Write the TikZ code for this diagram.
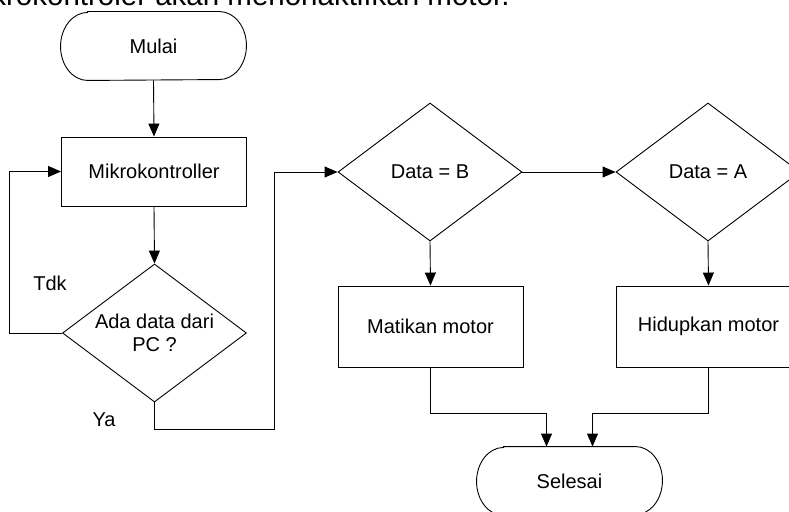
\documentclass[tikz,border=0pt]{standalone}
\usepackage{fontspec}
\setmainfont{Liberation Sans}
\usetikzlibrary{shapes.geometric,arrows.meta}

\tikzset{
  arr/.style={-{Triangle[length=13pt,width=11pt]}},
  lbl/.style={font=\fontsize{20}{23}\selectfont, inner sep=0pt},
  procbox/.style={draw, rectangle, minimum width=185pt, inner sep=0pt, lbl},
  decision/.style={draw, diamond, aspect=1.34, minimum width=184pt, minimum height=138pt, inner sep=0pt, lbl, align=center},
  terminal/.style={rectangle, minimum width=185pt, minimum height=68pt, inner sep=0pt, lbl},
}

\begin{document}
\begin{tikzpicture}[x=1pt,y=-1pt, line width=0.9pt]
  \useasboundingbox (0,0) rectangle (789,511);
  \clip (0,0) rectangle (789,511);

  % caption line running across the top
  \node[anchor=base east, inner sep=0pt, font=\fontsize{29.5}{33}\selectfont]
    (caption) at (510,6) {Mikrokontroler akan menonaktifkan motor.};

  % nodes
  \node[terminal] (start) at (153.5,46) {Mulai};
  \node[procbox, minimum height=69pt] (mk) at (154,171.5) {Mikrokontroller};
  \node[decision] (q) at (154.5,333) {Ada data dari\\PC ?};
  \node[decision] (b) at (430,172) {Data = B};
  \node[decision] (a) at (708,172) {Data = A};
  \node[procbox, minimum height=81pt] (off) at (430.5,326.5) {Matikan motor};
  \node[procbox, minimum height=81pt] (on) at (708.5,326.5) {Hidupkan motor};
  \node[terminal] (finish) at (569.5,481) {Selesai};

  % terminal outlines with elliptical ends
  \foreach \n in {start,finish}{
    \draw ([xshift=27pt]\n.north west) -- ([xshift=-27pt]\n.north east)
      arc[start angle=90, end angle=-90, x radius=27pt, y radius=34pt]
      -- ([xshift=27pt]\n.south west)
      arc[start angle=270, end angle=90, x radius=27pt, y radius=34pt] -- cycle;
  }

  % branch labels
  \node[lbl] (tdk) at (50,283) {Tdk};
  \node[lbl] (ya) at (104,420) {Ya};

  \coordinate (yb) at (274,429);

  % connectors
  \draw[arr] (start.south) -- (mk.north);
  \draw[arr] (mk.south) -- (q.north);
  \draw[arr] (q.west) -| ([xshift=-52pt]mk.west) -- (mk.west);
  \draw[arr] (q.south) |- (yb) |- (b.west);
  \draw[arr] (b.east) -- (a.west);
  \draw[arr] (b.south) -- (off.north);
  \draw[arr] (a.south) -- (on.north);
  \draw[arr] (off.south) -- ++(0,46) -| ([xshift=-23pt]finish.north);
  \draw[arr] (on.south) -- ++(0,46) -| ([xshift=23pt]finish.north);
\end{tikzpicture}
\end{document}
